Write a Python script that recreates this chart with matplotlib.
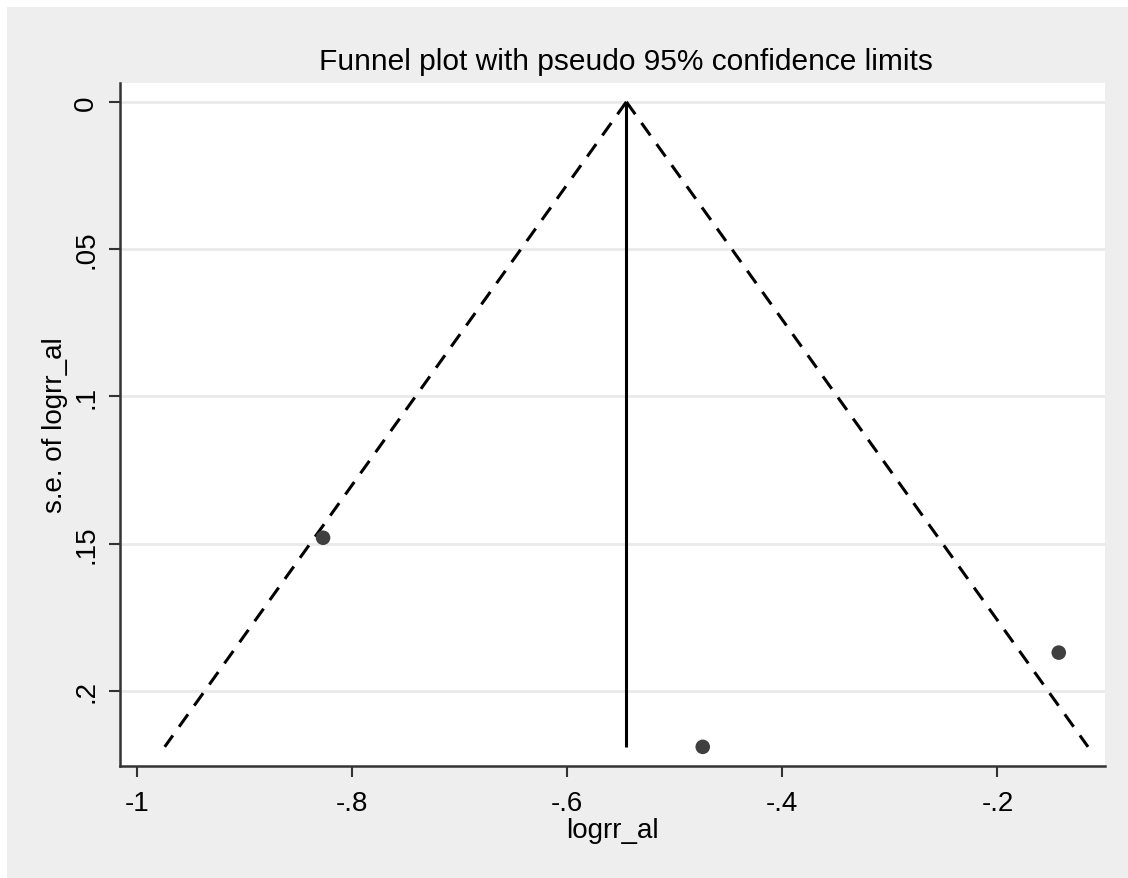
import numpy as np
import matplotlib
matplotlib.use("Agg")
import matplotlib.pyplot as plt
from matplotlib.patches import Rectangle

# study estimates
logrr = [-0.827, -0.474, -0.143]
se_logrr = [0.148, 0.219, 0.187]
pooled = -0.545          # fixed-effect estimate (vertical line)
z95 = 1.96

yticks = [0, 0.05, 0.1, 0.15, 0.2]
ytick_labels = ["0", ".05", ".1", ".15", ".2"]
xticks = [-1, -0.8, -0.6, -0.4, -0.2]
xtick_labels = ["-1", "-.8", "-.6", "-.4", "-.2"]

plt.rcParams['font.family'] = ['Liberation Sans', 'DejaVu Sans']

fig = plt.figure(figsize=(11.28, 8.79), dpi=100, facecolor='white')
fig.patches.append(Rectangle((7 / 1128, 0), 1, 1 - 8 / 879, transform=fig.transFigure,
                             facecolor='#eeeeee', edgecolor='none', zorder=-10))
ax = fig.add_axes([120 / 1128, 1 - 767 / 879, (1105 - 120) / 1128, (767 - 84) / 879])
ax.set_facecolor('white')

# funnel limits
se_max = max(se_logrr)
se_line = np.array([0, se_max])
ax.plot(pooled - z95 * se_line, se_line, color='black', lw=2.2, ls=(0, (5, 3.5)))
ax.plot(pooled + z95 * se_line, se_line, color='black', lw=2.2, ls=(0, (5, 3.5)))
ax.plot([pooled, pooled], [0, se_max], color='black', lw=2.2, solid_capstyle='butt')

ax.scatter(logrr, se_logrr, s=110, color='#3f3f3f', zorder=3, edgecolors='none')

ax.set_xlim(-1.0158, -0.1)
ax.set_ylim(0.2255, -0.0064)

ax.set_yticks(yticks)
ax.set_yticklabels(ytick_labels, rotation=90, va='center', fontsize=20)
ax.set_xticks(xticks)
ax.set_xticklabels(xtick_labels, fontsize=20)
ax.tick_params(axis='both', length=8, width=1.5, color='#333333')
ax.tick_params(axis='x', pad=9)
ax.tick_params(axis='y', pad=7)
ax.grid(axis='y', color='#eaeaea', lw=2)
ax.set_axisbelow(True)

for side in ['top', 'right']:
    ax.spines[side].set_visible(False)
for side in ['left', 'bottom']:
    ax.spines[side].set_linewidth(1.8)
    ax.spines[side].set_color('#333333')

ax.set_xlabel('logrr_al', fontsize=20, labelpad=1)
ax.set_ylabel('s.e. of logrr_al', fontsize=20, labelpad=4)
fig.text(0.5545, 1 - 62 / 879, 'Funnel plot with pseudo 95% confidence limits',
         ha='center', va='center', fontsize=21.5)

fig.savefig('out.png', dpi=100, facecolor=fig.get_facecolor())
